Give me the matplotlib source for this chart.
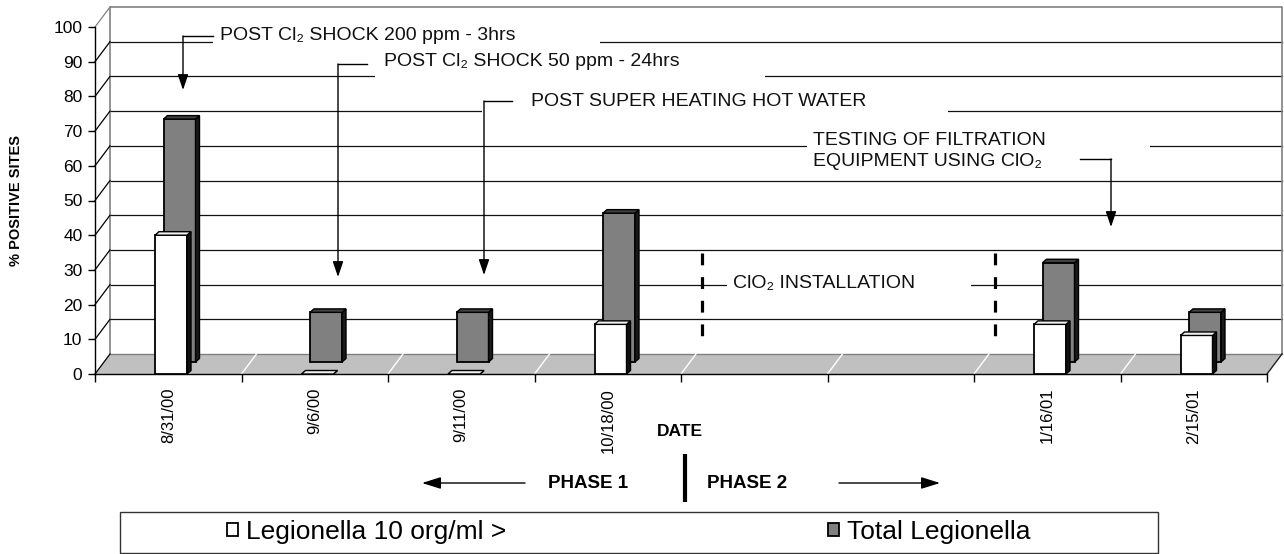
import numpy as np
import matplotlib
matplotlib.use('Agg')
import matplotlib.pyplot as plt
from matplotlib.patches import Polygon, Rectangle

plt.rcParams['font.family'] = ['Liberation Sans', 'DejaVu Sans']

# ---------------- data ----------------
categories = ['8/31/00', '9/6/00', '9/11/00', '10/18/00', '', '', '1/16/01', '2/15/01']
legionella_10 = [40, 0, 0, 14.3, np.nan, np.nan, 14.3, 11.1]
total_legionella = [70, 14.3, 14.3, 42.9, np.nan, np.nan, 28.6, 14.3]
series_names = ['Legionella 10 org/ml >', 'Total Legionella']
y_ticks = [0, 10, 20, 30, 40, 50, 60, 70, 80, 90, 100]
y_label = '% POSITIVE SITES'
x_label = 'DATE'

W, H = 1284, 554
fig = plt.figure(figsize=(W / 100, H / 100), dpi=100)
AX_L, AX_R, AX_T, AX_B = 95, 1267, 27, 374
ax = fig.add_axes([AX_L / W, 1 - AX_B / H, (AX_R - AX_L) / W, (AX_B - AX_T) / H])
n = len(categories)
ax.set_xlim(0, n)
ax.set_ylim(0, 100)
ax.patch.set_visible(False)
for s in ['top', 'right']:
    ax.spines[s].set_visible(False)
for s in ['left', 'bottom']:
    ax.spines[s].set_color('black')
    ax.spines[s].set_linewidth(1.0)
    ax.spines[s].set_zorder(2)

def dxu(px):
    return px * n / (AX_R - AX_L)

def dyu(px):
    return px * 100 / (AX_B - AX_T)

BX, BY = dxu(15), dyu(20)          # back wall offset
GX, GY = dxu(8.5), dyu(12)         # second series depth offset
DX, DY = dxu(4), dyu(3.5)          # bar thickness
BAR_W = dxu(32)
BAR_OFF = dxu(60)

# floor
ax.add_patch(Polygon([(0, 0), (n, 0), (n + BX, BY), (BX, BY)], closed=True,
                     facecolor='#c0c0c0', edgecolor='none', clip_on=False, zorder=0.5))
for i in range(1, n):
    ax.plot([i, i + BX], [0, BY], color='white', lw=1, clip_on=False, zorder=0.6)
ax.plot([n, n + BX], [0, BY], color='#202020', lw=1, clip_on=False, zorder=0.6)

# back wall gridlines and borders
for t in y_ticks[1:-1]:
    ax.plot([BX, n + BX], [t + BY, t + BY], color='#111111', lw=0.9, clip_on=False, zorder=0.4)
ax.plot([BX, BX, n + BX, n + BX], [BY, 100 + BY, 100 + BY, BY], color='#808080', lw=1.2,
        clip_on=False, zorder=0.4)
ax.plot([BX, n + BX], [BY, BY], color='#808080', lw=1, clip_on=False, zorder=0.55)
# side wall diagonals
for t in y_ticks:
    ax.plot([0, BX], [t, t + BY], color='#808080' if t == 100 else 'black', lw=0.9,
            clip_on=False, zorder=0.6)

# axes ticks
ax.set_yticks(y_ticks)
ax.set_yticklabels([str(t) for t in y_ticks], fontsize=12.5)
ax.tick_params(axis='y', length=5, width=1, pad=4, colors='black')
ax.set_xticks(range(n + 1))
ax.set_xticklabels([''] * (n + 1))
ax.tick_params(axis='x', which='major', length=6, width=1, direction='out')
ax.set_xticks([i + 0.5 for i in range(n)], minor=True)
ax.set_xticklabels(categories, minor=True, rotation=90, fontsize=12)
ax.tick_params(axis='x', which='minor', length=0, pad=10)


def draw_bars(values, dx0, base, face, top, side, z):
    xs = [i + BAR_OFF + dx0 for i in range(n)]
    cont = ax.bar(xs, values, width=BAR_W, bottom=base, align='edge', color=face,
                  edgecolor='black', linewidth=1.3, zorder=z, clip_on=False)
    for x0, v in zip(xs, values):
        if np.isnan(v):
            continue
        x1 = x0 + BAR_W
        y1 = base + v
        ax.add_patch(Polygon([(x1, base), (x1 + DX, base + DY), (x1 + DX, y1 + DY), (x1, y1)],
                             closed=True, facecolor=side, edgecolor='black', lw=1,
                             zorder=z, clip_on=False))
        ax.add_patch(Polygon([(x0, y1), (x1, y1), (x1 + DX, y1 + DY), (x0 + DX, y1 + DY)],
                             closed=True, facecolor=top, edgecolor='black', lw=1,
                             zorder=z, clip_on=False))
    return cont

gray_bars = draw_bars(total_legionella, GX, GY, '#808080', '#404040', '#1a1a1a', 3)
white_bars = draw_bars(legionella_10, 0, 0, 'white', '#f0f0f0', '#111111', 4)

# ---------------- overlay in pixel coordinates ----------------
ov = fig.add_axes([0, 0, 1, 1], zorder=5)
ov.set_xlim(0, W)
ov.set_ylim(H, 0)
ov.axis('off')
ov.patch.set_visible(False)

FS = 14
boxes = [(213, 22, 600, 50), (375, 48, 765, 80), (482, 90, 948, 117),
         (807, 125, 1150, 175), (727, 272, 971, 297)]
for x0, y0, x1, y1 in boxes:
    ov.add_patch(Rectangle((x0, y0), x1 - x0, y1 - y0, facecolor='white', edgecolor='none', zorder=1))

texts = [(220, 35.5, 'POST Cl\u2082 SHOCK 200 ppm - 3hrs'),
         (384, 62, 'POST Cl\u2082 SHOCK 50 ppm - 24hrs'),
         (531, 102, 'POST SUPER HEATING HOT WATER'),
         (813, 151, 'TESTING OF FILTRATION\nEQUIPMENT USING ClO\u2082'),
         (733, 283, 'ClO\u2082 INSTALLATION')]
for x, y, t in texts:
    ov.text(x, y, t, ha='left', va='center', fontsize=FS, color='#111111', zorder=3,
            linespacing=1.3)

ARW = dict(arrowstyle='-|>,head_length=0.94,head_width=0.32', color='black', lw=1,
           mutation_scale=10, shrinkA=0, shrinkB=0)
leaders = [((213, 36), (183, 36), (183, 90)),
           ((367, 64), (338, 64), (338, 277)),
           ((512, 101), (484, 101), (484, 275)),
           ((1080, 159), (1111, 159), (1111, 227))]
for p0, p1, p2 in leaders:
    ov.plot([p0[0], p1[0]], [p0[1], p1[1]], color='black', lw=1, zorder=3)
    ov.annotate('', xy=p2, xytext=p1, arrowprops=ARW, zorder=3)

# ClO2 installation dashed markers
for xd in (702, 995):
    ov.plot([xd, xd], [253, 338], color='black', lw=2.3,
            linestyle=(0, (3.7, 3.7)), solid_capstyle='butt', dash_capstyle='butt', zorder=3)

# axis titles and phases
ov.text(16, 201, y_label, rotation=90, ha='center', va='center', fontsize=10.5,
        fontweight='bold')
ov.text(680, 431, x_label, ha='center', va='center', fontsize=12.5, fontweight='bold')
ov.text(548, 483, 'PHASE 1', ha='left', va='center', fontsize=13.5, fontweight='bold')
ov.text(707, 483, 'PHASE 2', ha='left', va='center', fontsize=13.5, fontweight='bold')
ov.plot([685, 685], [454, 502], color='black', lw=3, solid_capstyle='butt')
ARP = dict(arrowstyle='-|>,head_length=1.15,head_width=0.36', color='black', lw=1,
           mutation_scale=10, shrinkA=0, shrinkB=0)
ov.annotate('', xy=(422, 483), xytext=(525, 483), arrowprops=ARP)
ov.annotate('', xy=(940, 483), xytext=(839, 483), arrowprops=ARP)

# legend
ov.add_patch(Rectangle((120, 512), 1158 - 120, 553 - 512, facecolor='white',
                       edgecolor='#333333', lw=1, zorder=0))
leg = ov.legend([white_bars, gray_bars], series_names, ncol=2, frameon=False,
                loc='center left', bbox_to_anchor=(227 / W, 1 - 532 / H),
                bbox_transform=fig.transFigure, fontsize=19, columnspacing=12.2,
                handlelength=0.42, handleheight=0.42, handletextpad=0.3,
                borderpad=0, borderaxespad=0)

fig.savefig('out.png', dpi=100)
